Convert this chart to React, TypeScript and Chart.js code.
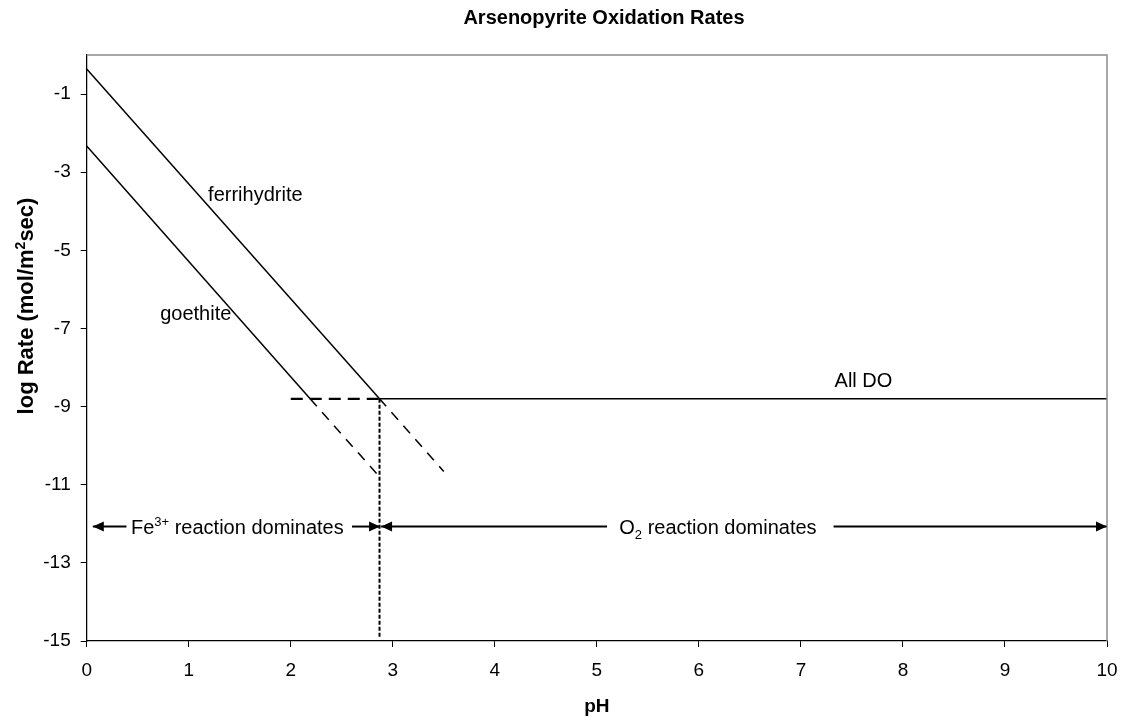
import React, { useEffect, useRef } from 'react';
import { Chart, registerables } from 'chart.js';

Chart.register(...registerables);

const FONT = '"Liberation Sans", Arial, Helvetica, sans-serif';

// ---- data ----
const xTicks = [0, 1, 2, 3, 4, 5, 6, 7, 8, 9, 10];
const yTicks = [-15, -13, -11, -9, -7, -5, -3, -1];

const ferrihydriteX = [0, 2.87];
const ferrihydriteY = [-0.36, -8.8];
const ferrihydriteExtX = [2.87, 3.5];
const ferrihydriteExtY = [-8.8, -10.66];

const goethiteX = [0, 2.19];
const goethiteY = [-2.33, -8.8];
const goethiteExtX = [2.19, 2.85];
const goethiteExtY = [-8.8, -10.74];

const allDoX = [2.87, 10];
const allDoY = [-8.8, -8.8];
const allDoExtX = [2, 2.87];
const allDoExtY = [-8.8, -8.8];

const boundaryX = [2.87, 2.87];
const boundaryY = [-8.8, -14.9];

const arrowY = -12.07;
const arrowTails = [0.39, 2.6, 5.1, 7.32];
const arrowHeads = [0.06, 2.875, 2.885, 10];

const curveLabels = ['ferrihydrite', 'goethite', 'All DO'];
const curveLabelX = [1.19, 0.72, 7.33];
const curveLabelY = [-3.74, -6.79, -8.49];

const regionMain = ['Fe', 'O'];
const regionScript = ['3+', '2'];
const regionScriptUp = [true, false];
const regionRest = [' reaction dominates', ' reaction dominates'];
const regionX = [0.434, 5.22];
const regionY = [-12.25, -12.25];

const TITLE = 'Arsenopyrite Oxidation Rates';
const X_TITLE = 'pH';
const Y_TITLE_PARTS = ['log Rate (mol/m', '2', 'sec)'];

const pts = (xs: number[], ys: number[]) => xs.map((x, i) => ({ x, y: ys[i] }));

const annotationPlugin = {
  id: 'annotations',
  afterDatasetsDraw(chart: any) {
    const { ctx, chartArea } = chart;
    const xs = chart.scales.x;
    const ys = chart.scales.y;
    ctx.save();
    // top/right frame
    ctx.strokeStyle = '#8a8a8a';
    ctx.lineWidth = 1.5;
    ctx.beginPath();
    ctx.moveTo(chartArea.left, chartArea.top);
    ctx.lineTo(chartArea.right, chartArea.top);
    ctx.lineTo(chartArea.right, chartArea.bottom);
    ctx.stroke();

    // arrowheads
    ctx.fillStyle = '#000';
    const py = ys.getPixelForValue(arrowY);
    arrowHeads.forEach((h, i) => {
      const hx = xs.getPixelForValue(h);
      const tx = xs.getPixelForValue(arrowTails[i]);
      const dir = hx > tx ? 1 : -1;
      ctx.beginPath();
      ctx.moveTo(hx, py);
      ctx.lineTo(hx - dir * 11, py - 5);
      ctx.lineTo(hx - dir * 11, py + 5);
      ctx.closePath();
      ctx.fill();
    });

    // curve labels
    ctx.font = `20px ${FONT}`;
    ctx.textAlign = 'left';
    ctx.textBaseline = 'alphabetic';
    curveLabels.forEach((t, i) => {
      ctx.fillText(t, xs.getPixelForValue(curveLabelX[i]), ys.getPixelForValue(curveLabelY[i]));
    });

    // region labels with super/subscripts
    regionMain.forEach((m, i) => {
      let x = xs.getPixelForValue(regionX[i]);
      const y = ys.getPixelForValue(regionY[i]);
      ctx.font = `20px ${FONT}`;
      ctx.fillText(m, x, y);
      x += ctx.measureText(m).width;
      ctx.font = `13px ${FONT}`;
      ctx.fillText(regionScript[i], x, regionScriptUp[i] ? y - 8 : y + 5);
      x += ctx.measureText(regionScript[i]).width;
      ctx.font = `20px ${FONT}`;
      ctx.fillText(regionRest[i], x, y);
    });

    // y-axis title (rotated, with superscript)
    ctx.save();
    ctx.translate(33, 306);
    ctx.rotate(-Math.PI / 2);
    const big = `bold 22px ${FONT}`;
    const small = `bold 14px ${FONT}`;
    ctx.font = big;
    const w0 = ctx.measureText(Y_TITLE_PARTS[0]).width;
    const w2 = ctx.measureText(Y_TITLE_PARTS[2]).width;
    ctx.font = small;
    const w1 = ctx.measureText(Y_TITLE_PARTS[1]).width;
    let cx = -(w0 + w1 + w2) / 2;
    ctx.textAlign = 'left';
    ctx.textBaseline = 'alphabetic';
    ctx.font = big;
    ctx.fillText(Y_TITLE_PARTS[0], cx, 0);
    cx += w0;
    ctx.font = small;
    ctx.fillText(Y_TITLE_PARTS[1], cx, -8);
    cx += w1;
    ctx.font = big;
    ctx.fillText(Y_TITLE_PARTS[2], cx, 0);
    ctx.restore();

    // title
    ctx.font = `bold 20px ${FONT}`;
    ctx.textAlign = 'center';
    ctx.textBaseline = 'middle';
    ctx.fillText(TITLE, 604, 18);
    ctx.restore();
  },
};

export default function App() {
  const ref = useRef<HTMLCanvasElement | null>(null);
  useEffect(() => {
    if (!ref.current) return;
    const line = (data: any[], opts: any) => ({
      data,
      borderColor: '#000',
      borderWidth: 1.5,
      pointRadius: 0,
      showLine: true,
      fill: false,
      ...opts,
    });
    const datasets: any[] = [
      line(pts(ferrihydriteX, ferrihydriteY), {}),
      line(pts(ferrihydriteExtX, ferrihydriteExtY), { borderDash: [10, 8] }),
      line(pts(goethiteX, goethiteY), {}),
      line(pts(goethiteExtX, goethiteExtY), { borderDash: [10, 8] }),
      line(pts(allDoX, allDoY), {}),
      line(pts(allDoExtX, allDoExtY), { borderDash: [12, 7], borderWidth: 2.25 }),
      line(pts(boundaryX, boundaryY), { borderDash: [4, 2], borderWidth: 2 }),
    ];
    arrowTails.forEach((t, i) => {
      datasets.push(line(pts([t, arrowHeads[i]], [arrowY, arrowY]), { borderWidth: 2, clip: false }));
    });

    const chart = new Chart(ref.current, {
      type: 'scatter',
      data: { datasets },
      plugins: [annotationPlugin],
      options: {
        animation: false,
        responsive: false,
        devicePixelRatio: 1,
        layout: { padding: { left: 0, right: 18, top: 55, bottom: 0 } },
        plugins: { legend: { display: false }, tooltip: { enabled: false }, title: { display: false } },
        scales: {
          x: {
            type: 'linear',
            min: 0,
            max: 10,
            afterBuildTicks: (axis: any) => {
              axis.ticks = xTicks.map((v) => ({ value: v }));
            },
            afterFit: (scale: any) => {
              scale.height = 80;
              scale.paddingLeft = 0;
              scale.paddingRight = 0;
            },
            ticks: { color: '#000', font: { family: FONT, size: 19 }, padding: 12, maxRotation: 0 },
            grid: { drawOnChartArea: false, drawTicks: true, tickLength: 6, color: '#000', lineWidth: 1 },
            border: { color: '#000', width: 1.25 },
            title: {
              display: true,
              text: X_TITLE,
              color: '#000',
              font: { family: FONT, size: 19, weight: 'bold' },
              padding: { top: 0, bottom: 3 },
            },
          },
          y: {
            type: 'linear',
            min: -15,
            max: 0,
            afterBuildTicks: (axis: any) => {
              axis.ticks = yTicks.map((v) => ({ value: v }));
            },
            afterFit: (scale: any) => {
              scale.width = 86.7;
              scale.paddingTop = 0;
              scale.paddingBottom = 0;
            },
            ticks: { color: '#000', font: { family: FONT, size: 19 }, padding: 10 },
            grid: { drawOnChartArea: false, drawTicks: true, tickLength: 6, color: '#000', lineWidth: 1 },
            border: { color: '#000', width: 1.25 },
          },
        },
      } as any,
    });
    return () => chart.destroy();
  }, []);

  return (
    <div style={{ position: 'fixed', left: 0, top: 0, width: 1125, height: 721, background: '#fff' }}>
      <canvas ref={ref} width={1125} height={721} style={{ width: 1125, height: 721, display: 'block' }} />
    </div>
  );
}
